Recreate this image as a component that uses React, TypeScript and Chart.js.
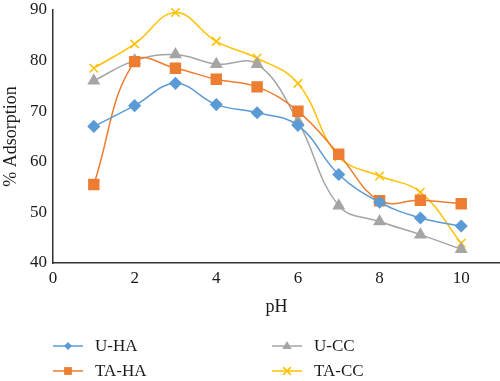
import React, { useEffect, useRef } from "react";
import { Chart, registerables } from "chart.js";

Chart.register(...registerables);

const phValues = [1, 2, 3, 4, 5, 6, 7, 8, 9, 10];
const uHA = [67, 71.1, 75.5, 71.3, 69.7, 67.2, 57.5, 52, 48.9, 47.3];
const taHA = [55.5, 79.8, 78.5, 76.3, 74.8, 70, 61.5, 52.3, 52.4, 51.7];
const uCC = [76, 80, 81.2, 79.3, 79.3, 68, 51.3, 48.2, 45.6, 42.7];
const taCC = [78.5, 83.3, 89.5, 83.8, 80.5, 75.5, 61, 57.2, 54, 43.9];
const xTicks = [0, 2, 4, 6, 8, 10];
const yTicks = [40, 50, 60, 70, 80, 90];

const FONT = "'Liberation Serif', 'DejaVu Serif', serif";

const seriesDefs = [
  { label: "U-HA", data: uHA, color: "#5B9BD5", style: "rectRot", radius: 5.5, legendRadius: 4 },
  { label: "TA-HA", data: taHA, color: "#ED7D31", style: "rect", radius: 7, legendRadius: 5.5 },
  { label: "U-CC", data: uCC, color: "#A5A5A5", style: "triangle", radius: 6, legendRadius: 5 },
  { label: "TA-CC", data: taCC, color: "#FFC000", style: "crossRot", radius: 6, legendRadius: 5.5 },
];

function drawPointShape(ctx: CanvasRenderingContext2D, style: string, r: number, x: number, y: number, color: string) {
  ctx.save();
  ctx.fillStyle = color;
  ctx.strokeStyle = color;
  ctx.lineWidth = 1.5;
  ctx.beginPath();
  if (style === "rectRot") {
    ctx.moveTo(x, y - r);
    ctx.lineTo(x + r, y);
    ctx.lineTo(x, y + r);
    ctx.lineTo(x - r, y);
    ctx.closePath();
    ctx.fill();
  } else if (style === "rect") {
    const s = r * Math.SQRT1_2;
    ctx.rect(x - s, y - s, 2 * s, 2 * s);
    ctx.fill();
  } else if (style === "triangle") {
    ctx.moveTo(x, y - r);
    ctx.lineTo(x + r * 0.95, y + r * 0.6);
    ctx.lineTo(x - r * 0.95, y + r * 0.6);
    ctx.closePath();
    ctx.fill();
  } else if (style === "crossRot") {
    const s = r * Math.SQRT1_2;
    ctx.moveTo(x - s, y - s);
    ctx.lineTo(x + s, y + s);
    ctx.moveTo(x + s, y - s);
    ctx.lineTo(x - s, y + s);
    ctx.stroke();
  }
  ctx.restore();
}

const legendPlugin = {
  id: "customLegend",
  afterDraw(chart: any) {
    const ctx = chart.ctx;
    const positions = [
      { x: 53, y: 346 },
      { x: 53, y: 371 },
      { x: 272, y: 346 },
      { x: 272, y: 371 },
    ];
    seriesDefs.forEach((s, i) => {
      const p = positions[i];
      ctx.save();
      ctx.strokeStyle = s.color;
      ctx.lineWidth = 1.5;
      ctx.beginPath();
      ctx.moveTo(p.x, p.y);
      ctx.lineTo(p.x + 30, p.y);
      ctx.stroke();
      drawPointShape(ctx, s.style, s.legendRadius, p.x + 15, p.y, s.color);
      ctx.fillStyle = "#1a1a1a";
      ctx.font = `17px ${FONT}`;
      ctx.textBaseline = "middle";
      ctx.textAlign = "left";
      ctx.fillText(s.label, p.x + 42, p.y + 1);
      ctx.restore();
    });
  },
};

export default function App() {
  const ref = useRef<HTMLCanvasElement | null>(null);

  useEffect(() => {
    if (!ref.current) return;
    const chart = new Chart(ref.current, {
      type: "line",
      data: {
        datasets: seriesDefs.map((s) => ({
          label: s.label,
          data: phValues.map((x, i) => ({ x, y: s.data[i] })),
          borderColor: s.color,
          backgroundColor: s.color,
          pointBackgroundColor: s.color,
          pointBorderColor: s.color,
          pointStyle: s.style as any,
          pointRadius: s.radius,
          pointBorderWidth: 1.5,
          borderWidth: 1.5,
          tension: 0.4,
          fill: false,
          clip: false as any,
        })),
      },
      options: {
        animation: false,
        responsive: false,
        maintainAspectRatio: false,
        layout: { autoPadding: false, padding: { left: 0, right: 0, top: 10, bottom: 63 } },
        plugins: {
          legend: { display: false },
          tooltip: { enabled: false },
        },
        scales: {
          x: {
            type: "linear",
            min: 0,
            max: 10.95,
            afterBuildTicks: (scale: any) => {
              scale.ticks = xTicks.map((v) => ({ value: v }));
            },
            afterFit: (scale: any) => {
              scale.height = 55;
              scale.paddingLeft = 0;
              scale.paddingRight = 0;
            },
            grid: { display: false, drawTicks: false },
            border: { display: true, color: "#333333", width: 1.5 },
            ticks: {
              color: "#1a1a1a",
              font: { family: FONT, size: 17 },
              padding: 5,
              maxRotation: 0,
              autoSkip: false,
            },
            title: {
              display: true,
              text: "pH",
              color: "#1a1a1a",
              font: { family: FONT, size: 18 },
              padding: { top: 0, bottom: 0 },
            },
          },
          y: {
            min: 40,
            max: 90,
            afterBuildTicks: (scale: any) => {
              scale.ticks = yTicks.map((v) => ({ value: v }));
            },
            afterFit: (scale: any) => {
              scale.width = 53;
              scale.paddingTop = 0;
              scale.paddingBottom = 0;
            },
            grid: { display: false, drawTicks: false },
            border: { display: true, color: "#333333", width: 1.5 },
            ticks: {
              color: "#1a1a1a",
              font: { family: FONT, size: 17 },
              padding: 6,
            },
            title: {
              display: true,
              text: "% Adsorption",
              color: "#1a1a1a",
              font: { family: FONT, size: 18 },
              padding: { top: 0, bottom: 0 },
            },
          },
        },
      },
      plugins: [legendPlugin],
    });
    return () => chart.destroy();
  }, []);

  return (
    <div style={{ position: "fixed", left: 0, top: 0, width: 500, height: 381, background: "#fff" }}>
      <canvas ref={ref} width={500} height={381} style={{ display: "block" }} />
    </div>
  );
}
